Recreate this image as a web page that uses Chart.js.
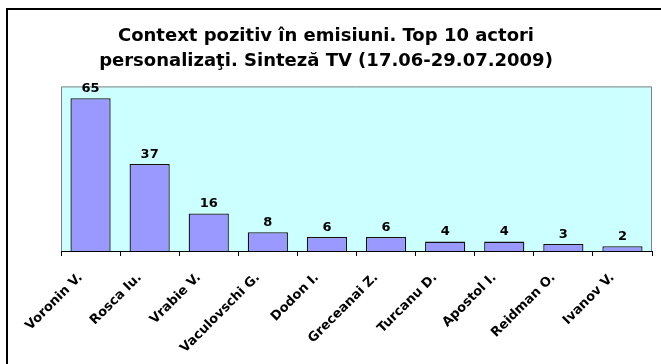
<!DOCTYPE html>
<html>
<head>
<meta charset="utf-8">
<script src="https://cdn.jsdelivr.net/npm/chart.js@4/dist/chart.umd.min.js"></script>
<style>
  html, body { margin: 0; padding: 0; background: #fff; }
  #wrap { width: 661px; height: 364px; }
</style>
</head>
<body>
<div id="wrap"><canvas id="actoriChart"></canvas></div>
<script>
// top 10 actors, positive context
const actori = ['Voronin V.', 'Rosca Iu.', 'Vrabie V.', 'Vaculovschi G.', 'Dodon I.',
                'Greceanai Z.', 'Turcanu D.', 'Apostol I.', 'Reidman O.', 'Ivanov V.'];
const valori = [65, 37, 16, 8, 6, 6, 4, 4, 3, 2];
const titlu = ['Context pozitiv în emisiuni. Top 10 actori',
               'personalizaţi. Sinteză TV (17.06-29.07.2009)'];

// frame, plot background and plot border
const fundal = {
    id: 'fundal',
    beforeDraw(chart) {
        const c = chart.ctx;
        const a = chart.chartArea;
        c.save();
        c.strokeStyle = '#000';
        c.lineWidth = 2;
        c.beginPath();
        c.moveTo(7, 364);
        c.lineTo(7, 9);
        c.lineTo(661, 9);
        c.stroke();
        c.fillStyle = '#CCFFFF';
        c.fillRect(a.left, a.top, a.right - a.left, a.bottom - a.top);
        c.strokeStyle = '#808080';
        c.lineWidth = 1;
        c.beginPath();
        c.moveTo(a.left + 0.5, a.bottom);
        c.lineTo(a.left + 0.5, a.top + 0.5);
        c.lineTo(a.right - 0.5, a.top + 0.5);
        c.lineTo(a.right - 0.5, a.bottom);
        c.stroke();
        c.restore();
    }
};

// numbers above the bars
const etichete = {
    id: 'etichete',
    afterDatasetsDraw(chart) {
        const c = chart.ctx;
        c.save();
        c.font = 'bold 13px "DejaVu Sans"';
        c.fillStyle = '#000';
        c.textAlign = 'center';
        c.textBaseline = 'bottom';
        chart.getDatasetMeta(0).data.forEach((bar, i) => {
            c.fillText(valori[i], bar.x, bar.y - 3);
        });
        c.restore();
    }
};

const ctx = document.getElementById('actoriChart').getContext('2d');
const actoriChart = new Chart(ctx, {
    type: 'bar',
    data: {
        labels: actori,
        datasets: [{
            data: valori,
            backgroundColor: '#9999FF',
            borderColor: '#111',
            borderWidth: 1.3,
            borderSkipped: 'bottom',
            barPercentage: 0.68,
            categoryPercentage: 1
        }]
    },
    options: {
        responsive: true,
        maintainAspectRatio: false,
        animation: false,
        layout: {
            padding: { left: 0, right: 9, top: 0, bottom: 0 }
        },
        scales: {
            x: {
                afterFit(scale) { scale.height = 113; },
                grid: {
                    offset: true,
                    drawOnChartArea: false,
                    drawTicks: true,
                    tickLength: 5,
                    color: '#000'
                },
                border: { display: true, color: '#000', width: 1 },
                ticks: {
                    minRotation: 45,
                    maxRotation: 45,
                    labelOffset: -10,
                    padding: 14,
                    color: '#000',
                    font: { family: 'DejaVu Sans', size: 13, weight: 'bold' }
                }
            },
            y: {
                afterFit(scale) { scale.width = 61; },
                min: 0,
                max: 70,
                grid: { display: false },
                border: { display: false },
                ticks: { display: false }
            }
        },
        plugins: {
            legend: { display: false },
            tooltip: { enabled: false },
            title: {
                display: true,
                text: titlu,
                color: '#000',
                font: { family: 'DejaVu Sans', size: 18, weight: 'bold', lineHeight: 1.4 },
                padding: { top: 24, bottom: 12 }
            }
        }
    },
    plugins: [fundal, etichete]
});
</script>
</body>
</html>
